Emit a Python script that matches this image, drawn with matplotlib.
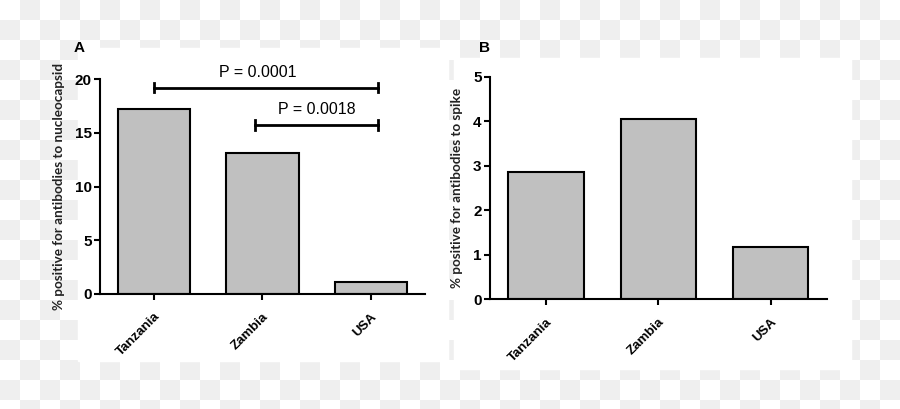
import numpy as np
import matplotlib
matplotlib.use("Agg")
import matplotlib.pyplot as plt
from matplotlib.patches import Rectangle

# data
countries = ["Tanzania", "Zambia", "USA"]
nucleocapsid = [17.2, 13.1, 1.1]
spike = [2.85, 4.04, 1.18]
brackets = [(0, 2, 19.2, "P = 0.0001"), (1, 2, 15.7, "P = 0.0018")]

bar_color = "#c0c0c0"
tick_font = "Liberation Sans"
label_font = "Lato"

fig = plt.figure(figsize=(9, 4.09), dpi=100)

# checkered "transparent" backdrop
bg = fig.add_axes([0, 0, 1, 1], zorder=-10)
yy, xx = np.indices((409, 900))
checks = ((xx // 20 + yy // 20) % 2).astype(float)
bg.imshow(checks, cmap=matplotlib.colors.ListedColormap(["#ffffff", "#efefef"]),
          aspect="auto", interpolation="nearest")
bg.axis("off")
# white panels behind each chart
for x0, y0, x1, y1 in [(77, 47, 447, 360), (453, 57, 850, 368)]:
    bg.add_patch(Rectangle((x0, y0), x1 - x0, y1 - y0, color="white", zorder=2))


def style(ax, ymax, step, ylabel):
    x = np.arange(len(countries))
    ax.set_xlim(-0.5, 2.5)
    ax.set_ylim(0, ymax)
    ax.set_facecolor("none")
    for s in ["top", "right"]:
        ax.spines[s].set_visible(False)
    for s in ["left", "bottom"]:
        ax.spines[s].set_linewidth(1.5)
    ax.set_yticks(np.arange(0, ymax + 0.01, step))
    ax.set_xticks(x)
    ax.set_xticklabels(countries, rotation=45, ha="right", rotation_mode="anchor",
                       fontsize=9.5, fontweight="bold", family=tick_font)
    for t in ax.get_yticklabels():
        t.set_fontweight("bold")
        t.set_fontsize(11)
        t.set_family(tick_font)
    ax.tick_params(axis="y", width=1.5, length=4, pad=2)
    ax.tick_params(axis="x", width=1.5, length=4, pad=8)
    ax.set_ylabel(ylabel, fontsize=9.7, family=label_font, fontweight="bold",
                  color="#222222", labelpad=7)


axA = fig.add_axes([0.1111, 0.2812, 0.3611, 0.5256])
axA.bar(np.arange(3), nucleocapsid, width=0.67, color=bar_color,
        edgecolor="black", linewidth=1.5)
style(axA, 20, 5, "% positive for antibodies to nucleocapsid")
for i0, i1, y, txt in brackets:
    x0 = i0 if i0 == 0 else i0 - 0.07
    x1 = i1 + 0.07
    axA.plot([x0, x1], [y, y], color="black", lw=2, clip_on=False)
    for xe in (x0, x1):
        axA.plot([xe, xe], [y - 0.45, y + 0.45], color="black", lw=2, clip_on=False)
    xt = (x0 + x1) / 2 - (0.08 if i0 == 0 else 0)
    axA.text(xt, y + 0.75, txt, ha="center", va="bottom",
             fontsize=11.5, family=tick_font, clip_on=False)

axB = fig.add_axes([0.5444, 0.2682, 0.3741, 0.5443])
axB.bar(np.arange(3), spike, width=0.67, color=bar_color,
        edgecolor="black", linewidth=1.5)
style(axB, 5, 1, "% positive for antibodies to spike")

fig.text(74 / 900, 1 - 48 / 409, "A", fontsize=11, fontweight="bold",
         family=tick_font, va="center", ha="left")
fig.text(479 / 900, 1 - 48 / 409, "B", fontsize=11, fontweight="bold",
         family=tick_font, va="center", ha="left")

fig.savefig("out.png", dpi=100)
